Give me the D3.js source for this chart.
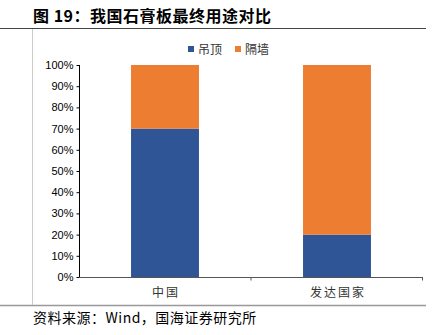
<!DOCTYPE html>
<html>
<head>
<meta charset="utf-8">
<script src="https://cdn.jsdelivr.net/npm/d3@7"></script>
<style>
  html, body { margin: 0; padding: 0; background: #fff; }
  svg { display: block; }
</style>
</head>
<body>
<script>
// Data: end-use shares of gypsum board
const categories = ["中国", "发达国家"];
const seriesNames = ["吊顶", "隔墙"];
const ceiling = [0.70, 0.20];   // 吊顶
const partition = [0.30, 0.80]; // 隔墙
const yTicks = [0, 0.1, 0.2, 0.3, 0.4, 0.5, 0.6, 0.7, 0.8, 0.9, 1.0];
const colors = ["#2F5597", "#ED7D31"];

const W = 434, H = 335;
const svg = d3.select("body").append("svg").attr("width", W).attr("height", H);

const cjk = "'Noto Sans CJK SC', sans-serif";
const latin = "'Liberation Sans', Arial, sans-serif";

// Title
svg.append("text")
  .attr("x", 33).attr("y", 22)
  .attr("font-family", cjk).attr("font-weight", "bold").attr("font-size", 16)
  .attr("letter-spacing", 0.5)
  .attr("fill", "#000")
  .text("图 19：我国石膏板最终用途对比");

// Frame lines
svg.append("line").attr("x1", 0).attr("x2", 426).attr("y1", 28.5).attr("y2", 28.5)
  .attr("stroke", "#444").attr("stroke-width", 1);
svg.append("line").attr("x1", 0).attr("x2", 426).attr("y1", 305.5).attr("y2", 305.5)
  .attr("stroke", "#999").attr("stroke-width", 1.5);
svg.append("line").attr("x1", 32.5).attr("x2", 32.5).attr("y1", 29).attr("y2", 305)
  .attr("stroke", "#ccc").attr("stroke-width", 1);

// Source note
svg.append("text")
  .attr("x", 33).attr("y", 323)
  .attr("font-family", cjk).attr("font-size", 14).attr("letter-spacing", 0.5)
  .attr("fill", "#000")
  .text("资料来源：Wind，国海证券研究所");

// Scales
const x = d3.scaleBand().domain(categories).range([79, 423])
  .paddingInner(0.605).paddingOuter(0.3025);
const y = d3.scaleLinear().domain([0, 1]).range([277, 65]);

// Stacked bars
const rows = categories.map((c, i) => ({ cat: c, "吊顶": ceiling[i], "隔墙": partition[i] }));
const stacked = d3.stack().keys(seriesNames)(rows);

svg.append("g").selectAll("g").data(stacked).join("g")
  .attr("fill", (d, i) => colors[i])
  .selectAll("rect").data(d => d).join("rect")
  .attr("x", d => x(d.data.cat))
  .attr("width", x.bandwidth())
  .attr("y", d => y(d[1]))
  .attr("height", d => y(d[0]) - y(d[1]));

// Y axis
const yAxis = d3.axisLeft(y).tickValues(yTicks).tickFormat(d3.format(".0%"))
  .tickSize(3).tickPadding(3);
const gy = svg.append("g").attr("transform", "translate(79.5,0)").call(yAxis);
gy.selectAll("text").attr("font-family", latin).attr("font-size", 11).attr("fill", "#000");
gy.selectAll("line, path").attr("stroke", "#000");
gy.select(".domain").attr("d", "M0," + y(1) + "V" + y(0));

// X axis
const xAxis = d3.axisBottom(x).tickSize(0).tickPadding(11);
const gx = svg.append("g").attr("transform", "translate(0,277.5)").call(xAxis);
gx.selectAll("text").attr("font-family", cjk).attr("font-size", 12)
  .attr("letter-spacing", 2).attr("dx", 1).attr("fill", "#333");
gx.select(".domain").attr("stroke", "#555").attr("d", "M79,0H423");
// Boundary ticks between categories
gx.selectAll(".bt").data([(x("中国") + x.bandwidth() + x("发达国家")) / 2, 422.5]).join("line")
  .attr("class", "bt")
  .attr("x1", d => d).attr("x2", d => d).attr("y1", 0).attr("y2", 3)
  .attr("stroke", "#555");

// Legend
const legend = svg.append("g").attr("transform", "translate(188,49)");
seriesNames.forEach((name, i) => {
  const g = legend.append("g").attr("transform", `translate(${i * 47},0)`);
  g.append("rect").attr("x", 0).attr("y", -3).attr("width", 6).attr("height", 6).attr("fill", colors[i]);
  g.append("text").attr("x", 10).attr("y", 4.5)
    .attr("font-family", cjk).attr("font-size", 12).attr("fill", "#333")
    .text(name);
});
</script>
</body>
</html>
